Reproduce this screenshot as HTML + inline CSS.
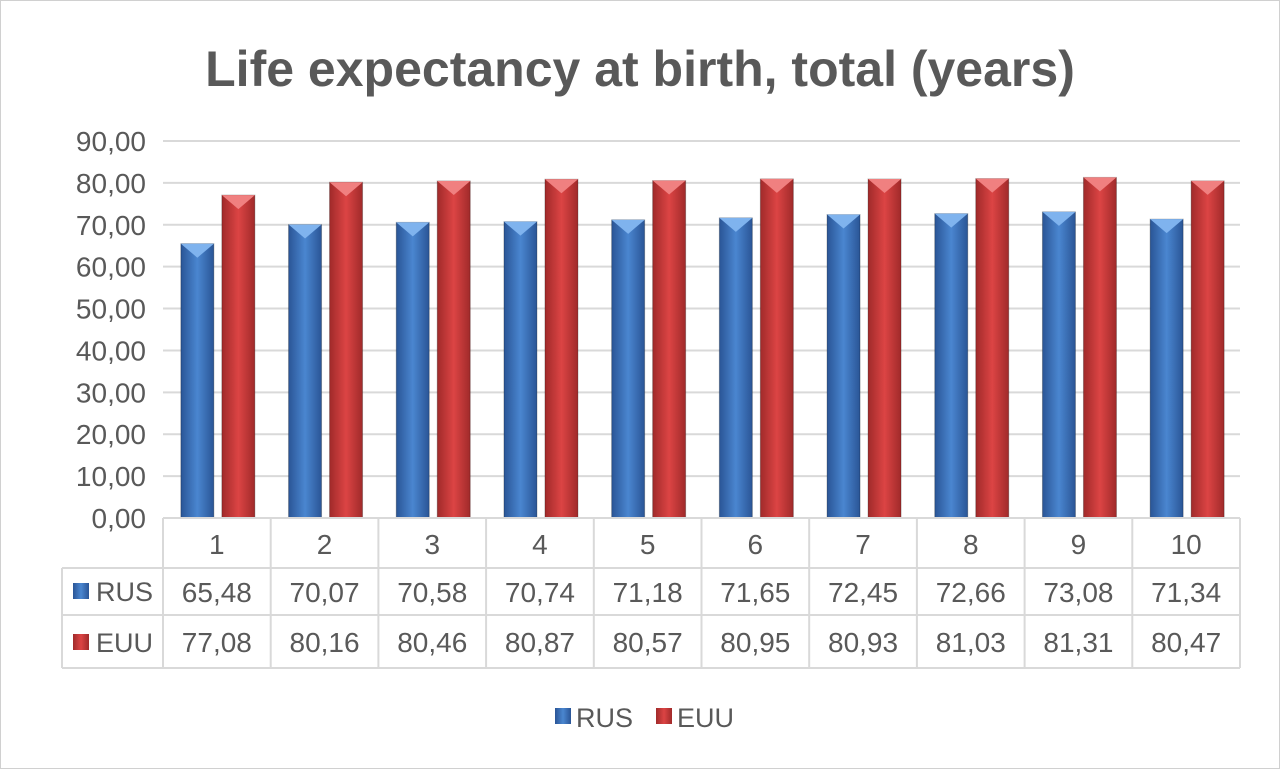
<!DOCTYPE html>
<html><head><meta charset="utf-8"><style>
body{margin:0;background:#fff;}
svg{display:block;font-family:"Liberation Sans",sans-serif;}
</style></head><body>
<svg id="c" width="1280" height="769">
<defs>
<linearGradient id="gb" x1="0" x2="1"><stop offset="0" stop-color="#2a5596"/><stop offset="0.5" stop-color="#4a86d0"/><stop offset="1" stop-color="#2a5596"/></linearGradient>
<linearGradient id="gr" x1="0" x2="1"><stop offset="0" stop-color="#a02a2a"/><stop offset="0.5" stop-color="#dc4444"/><stop offset="1" stop-color="#a02a2a"/></linearGradient>
</defs>
<rect x="0.5" y="0.5" width="1279" height="768" fill="#fff" stroke="#d0d0d0"/>
<text x="640" y="86" text-anchor="middle" font-size="50" font-weight="bold" fill="#595959">Life expectancy at birth, total (years)</text>
<g id="grid"></g><g id="bars"></g><g id="tbl"></g>
<g>
<rect x="555" y="708" width="16" height="16" fill="url(#gb)"/>
<text x="576" y="727" font-size="27" fill="#595959">RUS</text>
<rect x="656" y="708" width="16" height="16" fill="url(#gr)"/>
<text x="677" y="727" font-size="27" fill="#595959">EUU</text>
</g>
</svg>
<script>
const categories=["1","2","3","4","5","6","7","8","9","10"];
const rus=[65.48,70.07,70.58,70.74,71.18,71.65,72.45,72.66,73.08,71.34];
const euu=[77.08,80.16,80.46,80.87,80.57,80.95,80.93,81.03,81.31,80.47];
const yTicks=[0,10,20,30,40,50,60,70,80,90];
const NS="http://www.w3.org/2000/svg";
const x0=163,x1=1240,yB=518,yT=141,yMax=90;
const cw=(x1-x0)/categories.length;
const y=v=>yB-(v/yMax)*(yB-yT);
const fmt=v=>v.toFixed(2).replace('.',',');
function mk(t,a,p){const e=document.createElementNS(NS,t);for(const k in a)e.setAttribute(k,a[k]);p.appendChild(e);return e;}
const grid=document.getElementById('grid'),bars=document.getElementById('bars'),tbl=document.getElementById('tbl');
yTicks.forEach(v=>{
 const l=mk('line',{x1:x0,x2:x1,y1:y(v),y2:y(v),stroke:'#d9d9d9','stroke-width':2},grid);
 
 
 const t=mk('text',{x:146,y:y(v)+10,'text-anchor':'end','font-size':28,fill:'#595959'},grid);t.textContent=fmt(v);
 
 
});
function bar(v,cx,grad,tip,name){
 const g=mk('g',{},bars);
 
 
 const w=33,yy=y(v);
 mk('rect',{x:cx,y:yy,width:w,height:yB-yy,fill:'url(#'+grad+')',stroke:'rgba(0,0,0,0.25)'},g);
 mk('polygon',{points:`${cx},${yy} ${cx+w},${yy} ${cx+w/2},${yy+14}`,fill:tip},g);
}
categories.forEach((c,i)=>{
 const cx=x0+cw*i+cw/2;
 bar(rus[i],cx-36,'gb','#7fb3ee','bar-rus-'+c);
 bar(euu[i],cx+5,'gr','#f08080','bar-euu-'+c);
});
const tc='#d9d9d9';
mk('line',{x1:x0,x2:x1,y1:518,y2:518,stroke:tc,'stroke-width':2},tbl);
[568,615,668].forEach(r=>mk('line',{x1:62,x2:x1,y1:r,y2:r,stroke:tc,'stroke-width':2},tbl));
mk('line',{x1:62,x2:62,y1:568,y2:668,stroke:tc,'stroke-width':2},tbl);
for(let i=0;i<=categories.length;i++){mk('line',{x1:x0+cw*i,x2:x0+cw*i,y1:518,y2:668,stroke:tc,'stroke-width':2},tbl);}
categories.forEach((c,i)=>{
 const cx=x0+cw*i+cw/2;
 const t=mk('text',{x:cx,y:554,'text-anchor':'middle','font-size':28,fill:'#595959'},tbl);t.textContent=c;
 
 
 const a=mk('text',{x:cx,y:602,'text-anchor':'middle','font-size':28,fill:'#595959'},tbl);a.textContent=fmt(rus[i]);
 
 
 const b=mk('text',{x:cx,y:652,'text-anchor':'middle','font-size':28,fill:'#595959'},tbl);b.textContent=fmt(euu[i]);
 
 
});
mk('rect',{x:73,y:583,width:16,height:16,fill:'url(#gb)'},tbl);
const r1=mk('text',{x:96,y:601,'font-size':27,fill:'#595959'},tbl);r1.textContent='RUS';


mk('rect',{x:73,y:634,width:16,height:16,fill:'url(#gr)'},tbl);
const r2=mk('text',{x:96,y:652,'font-size':27,fill:'#595959'},tbl);r2.textContent='EUU';


</script>
</body></html>
